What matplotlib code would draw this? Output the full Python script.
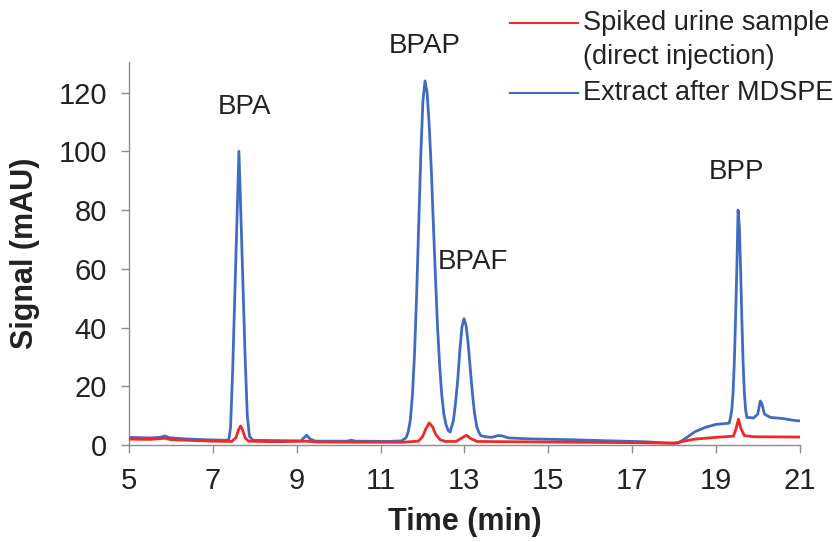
import matplotlib.pyplot as plt
from matplotlib.lines import Line2D

plt.rcParams['font.family'] = ['Liberation Sans', 'DejaVu Sans']

# Extract after MDSPE (blue trace)
blue_time = [5.0, 5.5, 5.75, 5.85, 5.95, 6.3, 6.8, 7.3,
             7.38, 7.42, 7.47, 7.52, 7.57, 7.62, 7.67, 7.72, 7.77, 7.82, 7.87, 7.95,
             8.5, 9.1, 9.18, 9.24, 9.32, 9.45,
             10.2, 10.3, 10.4, 11.2, 11.5,
             11.61, 11.66, 11.71, 11.76, 11.81, 11.86, 11.91, 11.96, 12.01, 12.06,
             12.11, 12.16, 12.21, 12.26, 12.31, 12.36, 12.41, 12.46, 12.51, 12.56,
             12.61, 12.66,
             12.74, 12.79, 12.84, 12.89, 12.94, 12.99, 13.04, 13.09, 13.14, 13.19,
             13.24, 13.29, 13.34, 13.39, 13.5, 13.65, 13.8, 13.9, 14.05, 14.5,
             15.5, 16.5, 17.3, 17.8, 18.1, 18.3, 18.5, 18.75, 19.0, 19.3,
             19.32, 19.35, 19.38, 19.41, 19.44, 19.47, 19.50, 19.53, 19.56, 19.59,
             19.62, 19.65, 19.68, 19.71, 19.74,
             19.9, 20.0, 20.06, 20.1, 20.16, 20.3, 20.6, 20.85, 21.0]
blue_signal = [2.6, 2.4, 2.6, 3.1, 2.5, 2.1, 1.8, 1.6,
               1.8, 6, 25, 50, 75, 100, 77, 53, 29, 10, 3, 1.6,
               1.5, 1.4, 2.6, 3.3, 2.0, 1.3,
               1.3, 1.6, 1.3, 1.2, 1.4,
               2.5, 4.5, 8.5, 17, 31, 51, 75, 99, 117, 124,
               120, 109, 94, 75, 57, 40, 27, 17, 10.5, 7,
               5, 4.4,
               8.5, 14.5, 22, 32, 40, 43, 40.7, 34.5, 26, 17.7,
               11, 6.5, 4.5, 3.2, 2.8, 2.6, 3.2, 3.1, 2.4, 2.1,
               1.8, 1.4, 1.1, 0.7, 0.6, 2.5, 4.5, 6, 7, 7.4,
               7.5, 9.4, 12, 17.7, 28, 43, 60, 80, 74.5, 60,
               43, 28, 17.7, 12, 9.4,
               9.2, 10.5, 15, 14, 10.5, 9.4, 9, 8.4, 8.2]

# Spiked urine sample, direct injection (red trace)
red_time = [5.0, 5.5, 5.85, 6.0, 7.0, 7.45, 7.55, 7.61, 7.66, 7.71, 7.77, 7.85,
            8.5, 9.2, 9.5, 11.5, 11.9, 12.0, 12.08, 12.16, 12.24, 12.32, 12.42,
            12.55, 12.8, 12.95, 13.05, 13.15, 13.3, 15.0, 17.0, 18.0, 18.2, 18.5,
            19.0, 19.42, 19.48, 19.54, 19.6, 19.68, 19.9, 21.0]
red_signal = [2.0, 1.9, 2.3, 1.8, 1.3, 1.2, 2.5, 5.2, 6.5, 5.0, 2.4, 1.3,
              1.1, 1.3, 1.0, 0.9, 1.3, 2.8, 5.5, 7.5, 6.2, 3.5, 1.8,
              1.2, 1.2, 2.5, 3.3, 2.2, 1.2, 1.0, 0.8, 0.6, 1.2, 2.0,
              2.6, 3.0, 5.5, 8.8, 5.5, 3.2, 2.8, 2.7]

peak_names = ['BPA', 'BPAP', 'BPAF', 'BPP']
peak_label_x = [7.76, 12.06, 13.2, 19.5]
peak_label_y = [115, 136, 62.4, 93]

x_ticks = [5, 7, 9, 11, 13, 15, 17, 19, 21]
y_ticks = [0, 20, 40, 60, 80, 100, 120]

red = '#f02828'
blue = '#3f6cc0'
grey = '#8c8c8c'
ink = '#222222'

fig = plt.figure(figsize=(8.33, 5.42), dpi=100)
ax = fig.add_axes([0.155, 0.179, 0.805, 0.707])

ax.plot(blue_time, blue_signal, color=blue, linewidth=2.0, zorder=2)
ax.plot(red_time, red_signal, color=red, linewidth=2.0, zorder=3)

for name, tx, ty in zip(peak_names, peak_label_x, peak_label_y):
    ax.text(tx, ty, name, ha='center', va='center', fontsize=20,
            color=ink, clip_on=False)

ax.set_xlim(5, 21)
ax.set_ylim(0, 130.5)
ax.set_xticks(x_ticks)
ax.set_yticks(y_ticks)
ax.tick_params(labelsize=21, length=6, width=1, color=grey, pad=10,
               labelcolor=ink)
for side in ['top', 'right']:
    ax.spines[side].set_visible(False)
for side in ['left', 'bottom']:
    ax.spines[side].set_color(grey)
    ax.spines[side].set_linewidth(1)

ax.set_xlabel('Time (min)', fontsize=22, fontweight='bold', color=ink)
ax.set_ylabel('Signal (mAU)', fontsize=22, fontweight='bold', color=ink)
ax.xaxis.set_label_coords(0.5, -0.201)
ax.xaxis.label.set_va('center')
ax.yaxis.set_label_coords(-0.155, 0.5)
ax.yaxis.label.set_va('center')

# Legend drawn by hand so the red handle sits on the first text line
fig.add_artist(Line2D([510 / 833, 578 / 833], [1 - 23 / 542, 1 - 23 / 542],
                      color=red, linewidth=1.5))
fig.add_artist(Line2D([510 / 833, 578 / 833], [1 - 93 / 542, 1 - 93 / 542],
                      color=blue, linewidth=1.5))
fig.text(583 / 833, 1 - 23 / 542, 'Spiked urine sample', fontsize=19.5,
         va='center', ha='left', color=ink)
fig.text(583 / 833, 1 - 57 / 542, '(direct injection)', fontsize=19.5,
         va='center', ha='left', color=ink)
fig.text(583 / 833, 1 - 93 / 542, 'Extract after MDSPE', fontsize=19.5,
         va='center', ha='left', color=ink)

fig.savefig('out.png', dpi=100)
